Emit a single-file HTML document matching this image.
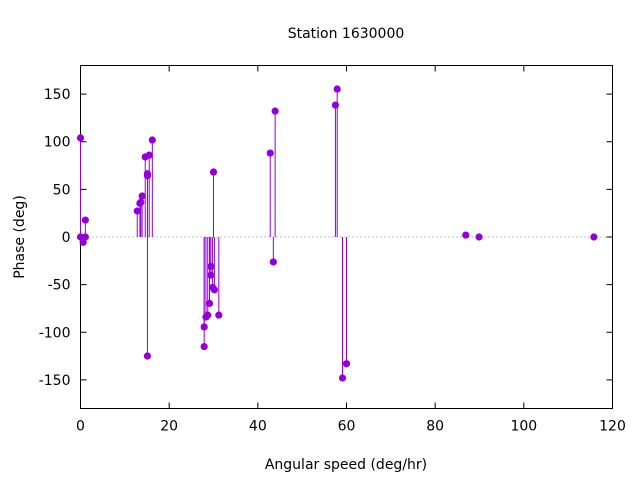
<!DOCTYPE html>
<html><head><meta charset="utf-8"><style>
body{margin:0;background:#fff}
text{font-family:"DejaVu Sans","Liberation Sans",sans-serif;font-size:14px;fill:#000}
</style></head><body>
<svg id="chart" width="640" height="480" xmlns="http://www.w3.org/2000/svg">
<text x="346" y="38" text-anchor="middle">Station 1630000</text>
<g id="axes"></g>
<g id="marks"></g>
<text x="346" y="469" text-anchor="middle">Angular speed (deg/hr)</text>
<text transform="translate(24,237) rotate(-90)" text-anchor="middle">Phase (deg)</text>
</svg>
<script>
const speeds=[0,0,0.6,1.1,1.1,12.8,13.4,13.6,13.9,14.6,15.1,15.1,15.1,15.5,16.2,27.9,27.9,28.3,28.7,29.1,29.4,29.4,29.8,30,30.2,31.2,42.8,43.5,43.9,57.5,57.9,59.1,60,86.9,89.9,115.8];
const phases=[104,0,-5.6,17.8,0,27.3,35.4,36.4,43,84,66.4,64.3,-124.9,86,101.8,-94.4,-115,-84,-82,-69.7,-31,-40,-52.9,68.2,-55.4,-82,88.1,-26.2,132.2,138.5,155.3,-148,-133,2,0,0];
const xTicks=[0,20,40,60,80,100,120];
const yTicks=[-150,-100,-50,0,50,100,150];
const L=80.5,R=612.5,T=65.5,B=408.5;
const xs=v=>L+(v-0)/120*(R-L);
const ys=v=>T+(180-v)/360*(B-T);
const NS="http://www.w3.org/2000/svg";
function mk(tag,attrs,parent){const e=document.createElementNS(NS,tag);for(const k in attrs)e.setAttribute(k,attrs[k]);parent.appendChild(e);return e;}
const ax=document.getElementById('axes'),mg=document.getElementById('marks');
const zl=mk('line',{x1:L,x2:R,y1:ys(0),y2:ys(0),stroke:'#888','stroke-dasharray':'1,3'},ax);


xTicks.forEach(t=>{
 const x=xs(t);
 const tk=mk('path',{d:`M${x},${B}v-6M${x},${T}v6`,stroke:'#000'},ax);
 
 
 const tl=mk('text',{x:x,y:B+22,'text-anchor':'middle'},ax);tl.textContent=t;
 
 
});
yTicks.forEach(t=>{
 const y=ys(t);
 const tk=mk('path',{d:`M${L},${y}h6M${R},${y}h-6`,stroke:'#000'},ax);
 
 
 const tl=mk('text',{x:L-10,y:y+5,'text-anchor':'end'},ax);tl.textContent=t;
 
 
});
const fr=mk('rect',{x:L,y:T,width:R-L,height:B-T,fill:'none',stroke:'#000'},ax);


speeds.forEach((s,i)=>{
 const x=xs(s),y=ys(phases[i]);
 const st=mk('line',{x1:x,x2:x,y1:ys(0),y2:y,stroke:'#9400d3','stroke-width':1},mg);
 
 
 const c=mk('circle',{cx:x,cy:y,r:3.6,fill:'#9400d3'},mg);
 
 
});
</script>
</body></html>
